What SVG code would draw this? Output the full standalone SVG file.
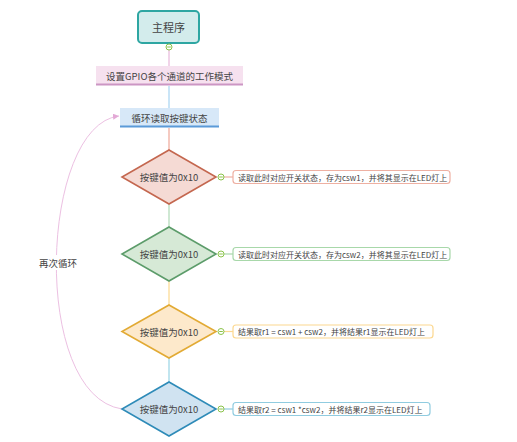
<svg xmlns="http://www.w3.org/2000/svg" width="517" height="442" viewBox="0 0 517 442">
<style>
text{font-family:"Noto Sans CJK SC","Liberation Sans",sans-serif;fill:#444;dominant-baseline:central}
.t{font-size:9.5px;text-anchor:middle}
.b{font-size:8px}
.box{fill:#fff;stroke-width:1.2}
.dot{fill:#fff;stroke:#8bc34a;stroke-width:1}
.minus{stroke:#8bc34a;stroke-width:1}
.dia{stroke-width:1.6}
</style>
<defs>
<marker id="ah" markerWidth="8" markerHeight="8" refX="6" refY="3" orient="auto" markerUnits="userSpaceOnUse">
<path d="M0,0 L6,3 L0,6 Z" fill="#e3a9d6"/>
</marker>
</defs>
<rect width="517" height="442" fill="#fff"/>
<g id="connectors" fill="none">
<line x1="169" y1="50" x2="169" y2="66" stroke="#ecc6e2" stroke-width="1.5"/>
<line x1="169" y1="86" x2="169" y2="108" stroke="#b8dcf4" stroke-width="1.5"/>
<line x1="169" y1="128" x2="169" y2="150" stroke="#f2b8ac" stroke-width="1.5"/>
<line x1="169" y1="204" x2="169" y2="227" stroke="#bfe0c4" stroke-width="1.5"/>
<line x1="169" y1="281" x2="169" y2="305" stroke="#fde0a4" stroke-width="1.5"/>
<line x1="169" y1="358" x2="169" y2="382" stroke="#acdcea" stroke-width="1.5"/>
<line x1="224" y1="177" x2="233" y2="177" stroke="#eeb0a2" stroke-width="1.2"/>
<line x1="224" y1="254" x2="233" y2="254" stroke="#a8d8aa" stroke-width="1.2"/>
<line x1="224" y1="331.5" x2="233" y2="331.5" stroke="#fcd890" stroke-width="1.2"/>
<line x1="224" y1="409" x2="233" y2="409" stroke="#90cce0" stroke-width="1.2"/>
<path d="M122,409 C30,395 40,125 119,116" stroke="#ecc0e2" stroke-width="1" marker-end="url(#ah)"/>
<rect x="40" y="255" width="36" height="15" fill="#fff"/>
<text x="58" y="263" style="font-size:9.5px;text-anchor:middle">再次循环</text>
</g>
<g id="main">
<rect x="138" y="11" width="61" height="32" rx="4" fill="#d3ecec" stroke="#2ea6a2" stroke-width="2"/>
<text x="168.5" y="27" style="font-size:11px;text-anchor:middle">主程序</text>
<circle class="dot" cx="169" cy="47" r="3"/>
<line class="minus" x1="167.2" y1="47" x2="170.8" y2="47"/>
</g>
<g id="setup">
<rect x="96" y="66" width="147" height="19" fill="#f6e1ef"/>
<line x1="96" y1="84.5" x2="243" y2="84.5" stroke="#cc96c4" stroke-width="2"/>
<text class="t" x="169.5" y="75.5">设置GPIO各个通道的工作模式</text>
</g>
<g id="loop">
<rect x="120" y="108" width="99" height="19" fill="#d7e8f8"/>
<line x1="120" y1="126.5" x2="219" y2="126.5" stroke="#5b9ad8" stroke-width="2"/>
<text class="t" x="169.5" y="117.5">循环读取按键状态</text>
</g>
<g id="d1">
<polygon class="dia" points="169,150 216,177 169,204 122,177" fill="#f5dad4" stroke="#c4674f"/>
<text class="t" x="169" y="177">按键值为0x10</text>
<circle class="dot" cx="221" cy="177" r="3"/>
<line class="minus" x1="219.2" y1="177" x2="222.8" y2="177"/>
</g>
<g id="r1">
<rect class="box" x="233" y="170.5" width="217" height="13" rx="3" stroke="#eeb0a2"/>
<text class="b" x="238" y="177">读取此时对应开关状态，存为csw1，并将其显示在LED灯上</text>
</g>
<g id="d2">
<polygon class="dia" points="169,227 216,254 169,281 122,254" fill="#d6e9d6" stroke="#5c9c6a"/>
<text class="t" x="169" y="254">按键值为0x10</text>
<circle class="dot" cx="221" cy="254" r="3"/>
<line class="minus" x1="219.2" y1="254" x2="222.8" y2="254"/>
</g>
<g id="r2">
<rect class="box" x="233" y="247.5" width="217" height="13" rx="3" stroke="#a8d8aa"/>
<text class="b" x="238" y="254">读取此时对应开关状态，存为csw2，并将其显示在LED灯上</text>
</g>
<g id="d3">
<polygon class="dia" points="169,305 216,331.5 169,358 122,331.5" fill="#fde9cb" stroke="#e2aa34"/>
<text class="t" x="169" y="331.5">按键值为0x10</text>
<circle class="dot" cx="221" cy="331.5" r="3"/>
<line class="minus" x1="219.2" y1="331.5" x2="222.8" y2="331.5"/>
</g>
<g id="r3">
<rect class="box" x="233" y="325" width="200" height="13" rx="3" stroke="#fcd890"/>
<text class="b" x="238" y="331.5">结果取r1 = csw1 + csw2，并将结果r1显示在LED灯上</text>
</g>
<g id="d4">
<polygon class="dia" points="169,382 216,409 169,436 122,409" fill="#d0e3f1" stroke="#2e8bb8"/>
<text class="t" x="169" y="409">按键值为0x10</text>
<circle class="dot" cx="221" cy="409" r="3"/>
<line class="minus" x1="219.2" y1="409" x2="222.8" y2="409"/>
</g>
<g id="r4">
<rect class="box" x="233" y="402.5" width="197" height="13" rx="3" stroke="#90cce0"/>
<text class="b" x="238" y="409">结果取r2 = csw1 *csw2，并将结果r2显示在LED灯上</text>
</g>
</svg>
